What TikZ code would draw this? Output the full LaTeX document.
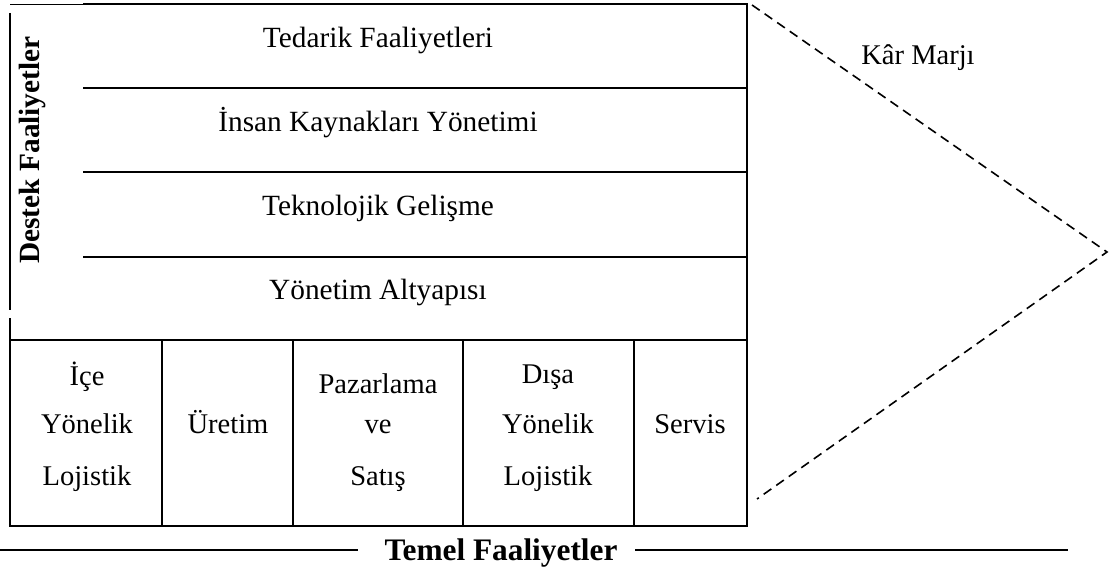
\documentclass[tikz,border=0pt]{standalone}
\usepackage{fontspec}
\setmainfont{Liberation Serif}
\begin{document}
\begin{tikzpicture}[x=0.75pt,y=-0.75pt,
  frame/.style={line width=1.5pt},
  thin/.style={line width=1.1pt},
  rowtxt/.style={inner sep=0pt,anchor=base,font=\fontsize{22}{26}\selectfont},
  lbl/.style={inner sep=0pt,anchor=base,font=\fontsize{21.4}{26}\selectfont},
  bold/.style={inner sep=0pt,font=\fontsize{22}{26}\selectfont\bfseries},
  margin/.style={line width=1.2pt,dash pattern=on 7pt off 4.5pt}]
\useasboundingbox (0,0) rectangle (1110,577);
% frame
\coordinate (tl) at (10,4.5);
\coordinate (tk) at (83,4.5);
\coordinate (tr) at (747,4.5);
\coordinate (br) at (747,526);
\coordinate (bl) at (10,526);
\coordinate (la) at (10,13);
\coordinate (lb) at (10,310);
\coordinate (lc) at (10,318);
\draw[line width=1pt] (tl) -- (tk);
\draw[frame] (tk) -- (tr) -- (br) -- (bl) -- (lc);
\draw[frame] (la) -- (lb);
% support rows
\foreach \y/\n in {88/r1,172/r2,257/r3}{
  \coordinate (\n a) at (83,\y);
  \coordinate (\n b) at (747,\y);
  \draw[frame] (\n a) -- (\n b);
}
\coordinate (r4a) at (10,340);
\coordinate (r4b) at (747,340);
\draw[frame] (r4a) -- (r4b);
% primary columns
\foreach \x/\n in {162/c1,293/c2,463/c3,634/c4}{
  \coordinate (\n a) at (\x,340);
  \coordinate (\n b) at (\x,526);
  \draw[frame] (\n a) -- (\n b);
}
% support texts
\node[rowtxt] (tedarik) at (378,48) {Tedarik Faaliyetleri};
\node[rowtxt] (insan) at (378,132) {İnsan Kaynakları Yönetimi};
\node[rowtxt] (tekno) at (378,216) {Teknolojik Gelişme};
\node[rowtxt] (yonetim) at (378,300) {Yönetim Altyapısı};
% primary texts
\node[lbl] (ice1) at (87,385) {İçe};
\node[lbl] (ice2) at (87,433) {Yönelik};
\node[lbl] (ice3) at (87,485) {Lojistik};
\node[lbl] (uretim) at (228,433) {Üretim};
\node[lbl] (paz1) at (378,393) {Pazarlama};
\node[lbl] (paz2) at (378,433) {ve};
\node[lbl] (paz3) at (378,485) {Satış};
\node[lbl] (disa1) at (548,383) {Dışa};
\node[lbl] (disa2) at (548,433) {Yönelik};
\node[lbl] (disa3) at (548,485) {Lojistik};
\node[lbl] (servis) at (690,433) {Servis};
\node[lbl] (kar) at (918,65) {Kâr Marjı};
\node[bold,rotate=90] (destek) at (32,150) {Destek Faaliyetler};
\node[bold,font=\fontsize{23.5}{28}\selectfont\bfseries,anchor=base] (temel) at (501,560) {Temel Faaliyetler};
% margin
\coordinate (m1) at (752,5);
\coordinate (m2) at (1107,252);
\coordinate (m3) at (757,499);
\draw[margin] (m1) -- (m2) -- (m3);
% primary activities rule
\coordinate (t1) at (0,550);
\coordinate (t2) at (358,550);
\coordinate (t3) at (635,550);
\coordinate (t4) at (1068,550);
\draw[thin] (t1) -- (t2);
\draw[thin] (t3) -- (t4);
\end{tikzpicture}
\end{document}
